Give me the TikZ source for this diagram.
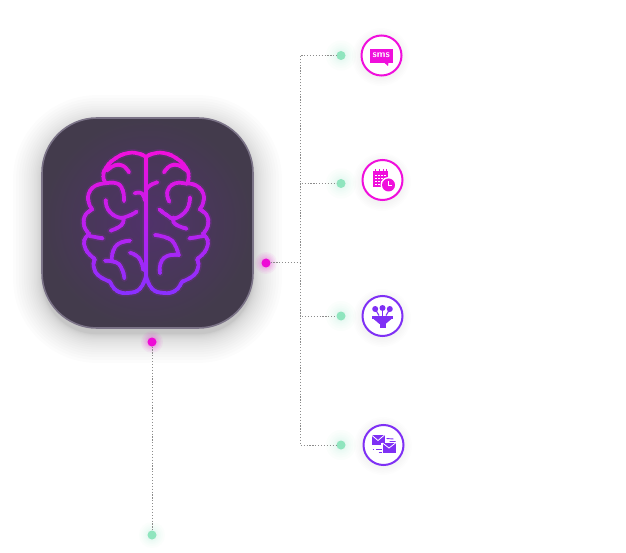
\documentclass[tikz,border=0pt]{standalone}
\usepackage{xcolor}
\usetikzlibrary{positioning}

\definecolor{brainTop}{HTML}{F20FDC}
\definecolor{brainLow}{HTML}{8A30FF}
\definecolor{iconPink}{HTML}{F00FDC}
\definecolor{iconViolet}{HTML}{7F30F5}
\definecolor{dotGreen}{HTML}{8FE5BE}
\definecolor{dotPink}{HTML}{EE0BD6}
\definecolor{cardEdge}{HTML}{7B7387}
\definecolor{cardDark}{HTML}{433B4C}
\definecolor{cardGlow}{HTML}{50326A}

% brain outline and folds
\newcommand{\brainpath}{
  % left half
  plot[lobe] coordinates {(258,82) (240,72) (205,69) (165,86) (137,115) (130,140) (137,160)}
  plot[lobe] coordinates {(137,160) (105,168) (86,192) (87,220) (97,238)}
  plot[lobe] coordinates {(97,238) (76,255) (71,280) (78,300) (88,312)}
  plot[lobe] coordinates {(88,312) (73,330) (76,355) (90,375) (105,387)}
  plot[lobe] coordinates {(105,387) (101,410) (116,437) (150,455)}
  plot[lobe] coordinates {(150,455) (170,482) (205,489) (240,476) (258,438)}
  plot[lobe] coordinates {(207,127) (190,108) (165,106) (140,122)}
  plot[lobe] coordinates {(137,160) (170,160) (188,180) (192,213)}
  plot[lobe] coordinates {(137,210) (145,240) (175,262) (205,258) (230,245)}
  plot[lobe] coordinates {(190,262) (185,285) (152,302)}
  plot[lobe] coordinates {(88,318) (128,325)}
  plot[lobe] coordinates {(224,190) (245,190) (255,212)}
  plot[lobe] coordinates {(210,332) (178,340) (160,362) (155,392)}
  plot[lobe] coordinates {(135,392) (170,398) (187,420) (193,445)}
  plot[lobe] coordinates {(210,368) (238,385) (250,420)}
  % middle line
  (258,82) -- (258,440)
  plot[lobe] coordinates {(258,178) (272,165) (292,157)}
  % right half
  plot[lobe] coordinates {(258,82) (276,72) (311,69) (351,86) (379,115) (386,140) (382,160)}
  plot[lobe] coordinates {(382,160) (411,168) (430,192) (429,220) (419,238)}
  plot[lobe] coordinates {(419,238) (440,255) (445,280) (438,300) (428,312)}
  plot[lobe] coordinates {(428,312) (443,330) (440,355) (426,375) (411,387)}
  plot[lobe] coordinates {(411,387) (415,410) (400,437) (366,455)}
  plot[lobe] coordinates {(366,455) (346,482) (311,489) (276,476) (258,438)}
  plot[lobe] coordinates {(312,127) (330,108) (355,106) (380,122)}
  plot[lobe] coordinates {(382,162) (345,160) (322,185) (328,215)}
  plot[lobe] coordinates {(390,202) (380,240) (345,265) (320,255) (298,238)}
  plot[lobe] coordinates {(340,262) (345,282) (380,296)}
  plot[lobe] coordinates {(432,318) (388,325)}
  plot[lobe] coordinates {(285,315) (325,325) (345,345) (355,372)}
  plot[lobe] coordinates {(358,375) (322,378) (302,400) (300,430)}
}

\begin{document}
\begin{tikzpicture}[x=1pt,y=-1pt,
% styles
lobe/.style={smooth, tension=0.8},
dotnode/.style={circle, fill=#1, inner sep=0pt, outer sep=0pt, minimum size=9pt},
iconnode/.style={circle, draw=#1, fill=white, line width=2pt, inner sep=0pt, outer sep=0pt, minimum size=40pt},
dotline/.style={line width=1pt, draw=black!45, dash pattern=on 1.2pt off 1.7pt},
brainline/.style={line width=3.7pt, line cap=round, line join=round},
]
\useasboundingbox (0,0) rectangle (626,553);
\fill[white] (0,0) rectangle (626,553);

% shadow of the card
\foreach \k in {19,18,...,1} {
  \pgfmathsetmacro{\r}{\k*\k*0.08}
  \pgfmathsetmacro{\rr}{55+\r}
  \fill[black, opacity=0.01, rounded corners=\rr pt] (42-\r,124-\r) rectangle (253+\r,334+\r);
}
% card
\shade[inner color=cardGlow, outer color=cardDark, rounded corners=55pt] (42,118) rectangle (253,328);
\draw[cardEdge, line width=1.6pt, rounded corners=55pt] (42,118) rectangle (253,328);

% brain
\begin{scope}[shift={(60,130)},x=0.3333pt,y=-0.3333pt]
\draw[brainline, brainLow!50!brainTop, line width=7pt, opacity=0.13] \brainpath;
\foreach \y in {60,70,...,490} {
  \pgfmathtruncatemacro{\mixval}{100-(\y-60)/4.3}
  \begin{scope}
    \clip (0,\y-1) rectangle (520,\y+11);
    \draw[brainline, brainTop!\mixval!brainLow] \brainpath;
  \end{scope}
}
\end{scope}

% glow under the dots
\foreach \cx/\cy/\gc/\gr/\go in {266/263/dotPink/7/0.05,152/342/dotPink/7/0.05,341/55.5/dotGreen/11/0.03,341/183.5/dotGreen/11/0.03,341/316/dotGreen/11/0.03,341/445/dotGreen/11/0.03,152/535/dotGreen/9/0.03} {
  \foreach \k in {1,...,8} {
    \fill[\gc, opacity=\go] (\cx,\cy) circle ({4+\gr*\k*\k/64});
  }
}
% shadows of the icons
\foreach \cx/\cy in {382/55,383/180,383/316,384/444} {
  \foreach \k in {0,1,...,5} {
    \fill[black, opacity=0.008] (\cx-1,\cy+2) circle ({21+\k*1.6});
  }
}

% dots
\node[dotnode=dotPink] (m1) at (266,263) {};
\node[dotnode=dotPink] (m2) at (152,342) {};
\node[dotnode=dotGreen] (g1) at (341,55.5) {};
\node[dotnode=dotGreen] (g2) at (341,183.5) {};
\node[dotnode=dotGreen] (g3) at (341,316) {};
\node[dotnode=dotGreen] (g4) at (341,445) {};
\node[dotnode=dotGreen] (g5) at (152,535) {};
\coordinate (trunk) at (300,263);

% icons
\node[iconnode=iconPink] (i1) [right=16pt of g1] {};
\node[iconnode=iconPink] (i2) [right=17pt of g2, yshift=3.5pt] {};
\node[iconnode=iconViolet] (i3) [right=17pt of g3] {};
\node[iconnode=iconViolet] (i4) [right=18pt of g4] {};

% lines
\draw[dotline] (m1) -- (trunk);
\draw[dotline] (m2) -- (g5);
\foreach \g in {g1,g2,g3,g4} {
  \draw[dotline] (trunk) |- (\g);
}

% sms
\begin{scope}[shift={(i1.center)}]
\fill[iconPink] (-11.5,-6.7) rectangle (11,7.3);
\fill[iconPink] (2.5,7) -- (7,7) -- (6.5,10.5) -- cycle;
\node[white, font=\sffamily\bfseries\fontsize{10}{10}\selectfont] (smstext) at (-0.3,-0.6) {sms};
\end{scope}

% calendar
\begin{scope}[shift={(i2.center)}]
\fill[iconPink] (-9.5,-8.5) rectangle (5,7);
\foreach \hx in {-7,-3,1,4} {
  \fill[iconPink] (\hx-0.7,-11) rectangle (\hx+0.7,-8);
}
\foreach \hx in {-6.5,-3.5,-0.5,2.5} {
  \foreach \hy in {-4.5,-1.5,1.5,4.5} {
    \fill[white] (\hx-0.6,\hy-0.6) rectangle (\hx+0.6,\hy+0.6);
  }
}
\fill[white] (6,5) circle (8);
\fill[iconPink] (6,5) circle (6.5);
\draw[white, line width=0.8pt] (6,1.5) -- (6,5) -- (9,5);
\end{scope}

% funnel
\begin{scope}[shift={(i3.center)}]
\fill[iconViolet] (-10.5,-0.5) rectangle (10.5,2.5);
\fill[iconViolet] (-9.5,2.5) -- (9.5,2.5) -- (3,8) -- (-3,8) -- cycle;
\fill[iconViolet] (-3,8) rectangle (3,12);
\foreach \fx/\fy/\tx in {-7.3/-7/-3.5,0/-8/0,7.3/-7/3.5} {
  \fill[iconViolet] (\fx,\fy) circle (3);
  \draw[iconViolet, line width=1.1pt] (\fx,\fy) -- (\tx,-0.5);
}
\end{scope}

% mail
\begin{scope}[shift={(i4.center)}]
\fill[iconViolet] (-12,-10) rectangle (1,0);
\draw[white, line width=0.8pt] (-12,-10) -- (-5.5,-4.5) -- (1,-10);
\fill[white] (-3,-2.5) rectangle (12,8);
\fill[iconViolet] (-1,-2) rectangle (12,8);
\draw[white, line width=0.8pt] (-1,-2) -- (5.5,3) -- (12,-2);
\draw[iconViolet, line width=0.9pt] (3,-6.5) -- (10,-6) (6,-3.5) -- (12,-3.5);
\draw[iconViolet, line width=0.9pt] (-11,4) -- (-9.5,4) (-7.5,4) -- (-2,4) (-5,7) -- (-2,7);
\end{scope}

\end{tikzpicture}
\end{document}
